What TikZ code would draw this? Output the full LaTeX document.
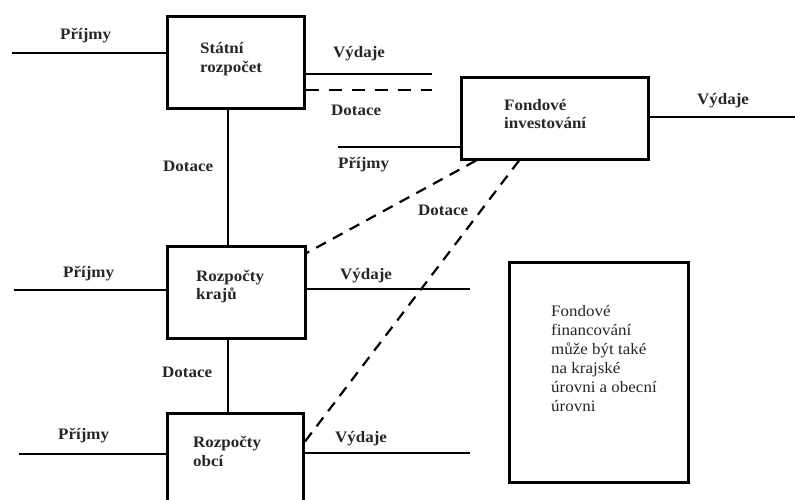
\documentclass[tikz,border=0pt]{standalone}
\usepackage{fontspec}
\newfontfamily\lblfont[FakeStretch=1.06]{Liberation Serif}
\newfontfamily\notefont[FakeStretch=1.06]{Liberation Serif}
\usetikzlibrary{calc}
\begin{document}
\begin{tikzpicture}[x=1pt,y=-1pt,
  box/.style={draw=black,line width=2.6pt,anchor=north west,inner sep=0pt},
  conn/.style={draw=black,line width=2.2pt},
  dashconn/.style={draw=black,line width=2.2pt,dash pattern=on 13pt off 10pt},
  diagdash/.style={draw=black,line width=2.2pt,dash pattern=on 11pt off 8pt},
  lbl/.style={anchor=base west,inner sep=0pt,text=black!85,font=\lblfont\fontsize{16}{19}\selectfont\bfseries},
  notetext/.style={anchor=base west,inner sep=0pt,text=black!85,font=\notefont\fontsize{16}{19}\selectfont}]
\useasboundingbox (0,0) rectangle (795,499);
\clip (0,0) rectangle (795,499);
\fill[white] (0,0) rectangle (795,499);
% boxes
\node[box,minimum width=137pt,minimum height=92pt] (stat) at (166,15) {};
\node[box,minimum width=187pt,minimum height=82pt] (fond) at (460,76) {};
\node[box,minimum width=138pt,minimum height=92pt] (kraj) at (166,245) {};
\node[box,minimum width=136pt,minimum height=110pt] (obci) at (166,412) {};
\node[box,minimum width=179pt,minimum height=220pt] (note) at (508,261) {};
% box texts
\node[lbl] (t1) at (200,53) {Státní};
\node[lbl] (t2) at (200,72) {rozpočet};
\node[lbl] (t3) at (504,110) {Fondové};
\node[lbl] (t4) at (504,128) {investování};
\node[lbl] (t5) at (196,281) {Rozpočty};
\node[lbl] (t6) at (196,299) {krajů};
\node[lbl] (t7) at (193,447) {Rozpočty};
\node[lbl] (t8) at (193,466) {obcí};
\node[notetext] (n1) at (551,316) {Fondové};
\node[notetext] (n2) at (551,335) {financování};
\node[notetext] (n3) at (551,354) {může být také};
\node[notetext] (n4) at (551,373) {na krajské};
\node[notetext] (n5) at (551,392) {úrovni a obecní};
\node[notetext] (n6) at (551,411) {úrovni};
% free ends
\coordinate (sp) at (12,53);
\coordinate (sv) at (432,74);
\coordinate (sd) at (432,90);
\coordinate (vx) at (228,0);
\coordinate (fv) at (795,117);
\coordinate (fp) at (338,147);
\coordinate (kp) at (14,290);
\coordinate (kv) at (470,289);
\coordinate (op) at (19,454);
\coordinate (ov) at (470,453);
% connectors
\draw[conn] (sp) -- (sp -| stat.west);
\draw[conn] (sv -| stat.east) -- (sv);
\draw[dashconn] (sd -| stat.east) -- (sd);
\draw[conn] (vx |- stat.south) -- (vx |- kraj.north);
\draw[conn] (fv -| fond.east) -- (fv);
\draw[conn] (fp) -- (fp -| fond.west);
\draw[diagdash] ($(fond.south west)+(16,0)$) -- ($(kraj.north east)+(0,8)$);
\draw[diagdash] ($(fond.south west)+(59,0)$) -- ($(obci.north east)+(0,30)$);
\draw[conn] (kp) -- (kp -| kraj.west);
\draw[conn] (kv -| kraj.east) -- (kv);
\draw[conn] (vx |- kraj.south) -- (vx |- obci.north);
\draw[conn] (op) -- (op -| obci.west);
\draw[conn] (ov -| obci.east) -- (ov);
% labels
\node[lbl] (l1) at (60,39) {Příjmy};
\node[lbl] (l2) at (333,57) {Výdaje};
\node[lbl] (l3) at (331,115) {Dotace};
\node[lbl] (l4) at (163,171) {Dotace};
\node[lbl] (l5) at (338,168) {Příjmy};
\node[lbl] (l6) at (697,104) {Výdaje};
\node[lbl] (l7) at (418,215) {Dotace};
\node[lbl] (l8) at (63,277) {Příjmy};
\node[lbl] (l9) at (340,279) {Výdaje};
\node[lbl] (l10) at (162,377) {Dotace};
\node[lbl] (l11) at (58,439) {Příjmy};
\node[lbl] (l12) at (335,442) {Výdaje};
\end{tikzpicture}
\end{document}
